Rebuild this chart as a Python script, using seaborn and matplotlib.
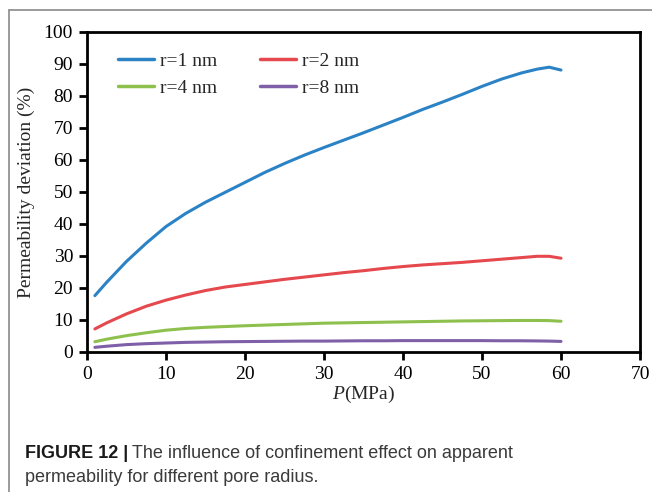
import pandas as pd
import seaborn as sns
import matplotlib
matplotlib.use("Agg")
from matplotlib import pyplot as plt
from matplotlib.lines import Line2D

# values
pressure = [1, 2.5, 5, 7.5, 10, 12.5, 15, 17.5, 20, 22.5, 25, 27.5, 30, 32.5,
            35, 37.5, 40, 42.5, 45, 47.5, 50, 52.5, 55, 57, 58.5, 60]
r1 = [17.6, 21.8, 28.3, 34.0, 39.2, 43.3, 46.8, 49.9, 53.0, 56.1, 58.9, 61.5, 63.9, 66.2,
      68.5, 70.9, 73.3, 75.8, 78.1, 80.5, 83.0, 85.3, 87.2, 88.4, 89.0, 88.1]
r2 = [7.2, 9.1, 11.9, 14.3, 16.2, 17.8, 19.2, 20.3, 21.1, 21.9, 22.7, 23.4, 24.1, 24.8,
      25.4, 26.1, 26.7, 27.2, 27.6, 28.0, 28.5, 29.0, 29.5, 29.9, 29.9, 29.3]
r4 = [3.2, 4.0, 5.1, 6.0, 6.8, 7.35, 7.7, 7.95, 8.2, 8.4, 8.6, 8.8, 9.0, 9.1,
      9.2, 9.3, 9.4, 9.5, 9.6, 9.7, 9.75, 9.8, 9.85, 9.85, 9.8, 9.6]
r8 = [1.45, 1.8, 2.3, 2.6, 2.8, 3.0, 3.1, 3.2, 3.25, 3.3, 3.35, 3.4, 3.4, 3.45,
      3.5, 3.5, 3.55, 3.55, 3.55, 3.55, 3.55, 3.5, 3.5, 3.45, 3.4, 3.3]
labels = ["r=1 nm", "r=2 nm", "r=4 nm", "r=8 nm"]
colors = ["#2b83c6", "#e5484d", "#8dc04c", "#7f5fa8"]

frames = []
for lab, vals in zip(labels, [r1, r2, r4, r8]):
    frames.append(pd.DataFrame({"P": pressure, "dev": vals, "radius": lab}))
df = pd.concat(frames, ignore_index=True)

sns.set_style("ticks")
plt.rcParams["font.family"] = ["Liberation Serif", "DejaVu Serif"]
plt.rcParams["mathtext.fontset"] = "custom"
plt.rcParams["mathtext.it"] = "Liberation Serif:italic"
plt.rcParams["mathtext.rm"] = "Liberation Serif"

fig = plt.figure(figsize=(6.52, 4.92), dpi=100)
ax = fig.add_axes([0.1334, 0.2846, 0.8482, 0.6504])

sns.lineplot(data=df, x="P", y="dev", hue="radius", palette=colors,
             linewidth=2.2, ax=ax, legend=False)

ax.set_xlim(0, 70)
ax.set_ylim(0, 100)
ax.set_xticks(range(0, 71, 10))
ax.set_yticks(range(0, 101, 10))
for s in ax.spines.values():
    s.set_linewidth(2)
    s.set_color("black")
ax.tick_params(axis="both", direction="out", length=6, width=2,
               labelsize=14, colors="black", pad=4)
ax.set_xlabel("$\\it{P}$(MPa)", fontsize=14, labelpad=1)
ax.set_ylabel("Permeability deviation (%)", fontsize=14, labelpad=6)

# legend filled row by row like the reference (matplotlib fills by column)
order = [0, 2, 1, 3]
handles = [Line2D([0], [0], color=colors[i], lw=2.5) for i in order]
ax.legend(handles, [labels[i] for i in order], ncol=2, frameon=False, fontsize=14,
          loc="upper left", bbox_to_anchor=(0.025, 0.99),
          handlelength=1.85, handletextpad=0.3, columnspacing=2.2,
          labelspacing=0.45)

# frame lines of the figure panel (left and top)
fig.add_artist(Line2D([9 / 652, 9 / 652], [0, 1 - 10 / 492],
                      transform=fig.transFigure, color="#8a8a8a", lw=1.2))
fig.add_artist(Line2D([9 / 652, 1], [1 - 10 / 492, 1 - 10 / 492],
                      transform=fig.transFigure, color="#8a8a8a", lw=1.2))

# caption
cap_font = ["Liberation Sans", "DejaVu Sans"]
bold = fig.text(25 / 652, 1 - 453 / 492, "FIGURE 12 |", family=cap_font,
                fontsize=13, weight="bold", color="#1a1a1a", va="center")
fig.canvas.draw()
bb = bold.get_window_extent(renderer=fig.canvas.get_renderer())
fig.text(bb.x1 / 652 + 4 / 652, 1 - 453 / 492,
         "The influence of confinement effect on apparent",
         family=cap_font, fontsize=13, color="#3a3a3a", va="center")
fig.text(25 / 652, 1 - 477 / 492, "permeability for different pore radius.",
         family=cap_font, fontsize=13, color="#3a3a3a", va="center")

fig.savefig("out.png", dpi=100)
